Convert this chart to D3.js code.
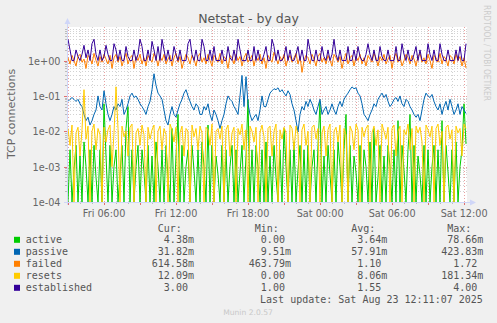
<!DOCTYPE html>
<html><head><meta charset="utf-8">
<script src="https://cdn.jsdelivr.net/npm/d3@7"></script>
<style>
body{margin:0;background:#f0f0f0;}
svg{display:block;}
text{white-space:pre;}
</style>
</head><body>
<svg id="chart" width="497" height="323"></svg>
<script>
// ---- data: 10-minute samples, Fri 22 Aug 02:57 to Sat 23 Aug 12:17 ----
const seriesNames  = ["active", "passive", "failed", "resets", "established"];
const seriesColors = ["#00cc00", "#0066b3", "#ff8000", "#ffcc00", "#330099"];

const active = [
  0,0.003,0,0.0008,0.004,0,0.002,0,0.005,0.001,0,0.003,0,0.004,0.0005,0,0.003,0,0.06,0.002,
  0,0.004,0,0.001,0.003,0,0.0006,0.004,0,0.012,0.05,0,0.003,0,0.001,0.004,0,0.003,0.0007,0,
  0.004,0,0.002,0,0.005,0.001,0,0.003,0,0.004,0.0005,0,0.012,0,0.002,0.03,0,0.004,0,0.001,
  0.003,0,0.004,0.0008,0,0.003,0,0.005,0.001,0,0.015,0,0.004,0,0.002,0.0006,0,0.004,0,0.003,
  0,0.001,0.004,0,0.003,0,0.0007,0.004,0,0.002,0.07866,0,0.003,0,0.004,0.001,0,0.003,0,0.005,
  0,0.002,0,0.004,0.0005,0,0.003,0,0.012,0.001,0,0.003,0,0.005,0,0.0008,0.004,0,0.003,0,
  0.004,0,0.001,0.003,0,0.004,0.07,0,0.002,0,0.004,0.0006,0,0.003,0,0.005,0.001,0,0.003,0.03,
  0,0.004,0,0.002,0.0007,0,0.004,0,0.003,0.001,0,0.005,0,0.012,0,0.0005,0.004,0,0.002,0,
  0.004,0.001,0,0.003,0,0.02,0,0.004,0.0008,0,0.003,0.03,0,0.004,0,0.002,0.0006,0,0.004,0,
  0.003,0,0.001,0.004,0,0.003,0,0.02,0,0.004,0.0007,0,0.003,0,0.005,0,0.001,0.003,0.06,0.00438
];

const passive = [
  0.07,0.08,0.09,0.08,0.07,0.08,0.06,
  0.05,0.03,0.02,0.025,0.015,0.02,0.03,0.04,
  0.1,0.05,0.04,0.14,0.06,0.03,
  0.02,0.03,0.05,0.04,0.06,0.05,0.08,0.03,0.04,0.06,
  0.1,0.12,0.09,0.1,0.08,0.06,0.05,0.04,
  0.03,0.05,0.07,0.15,0.42383,0.2,0.12,0.1,0.08,
  0.04,0.02,0.015,0.03,0.05,0.03,0.025,0.04,
  0.06,0.08,0.12,0.15,0.1,0.07,0.05,0.04,0.06,0.05,0.03,
  0.03,0.05,0.04,0.06,0.03,0.02,0.04,0.03,0.02,0.012,
  0.02,0.03,0.06,0.1,0.08,0.07,0.05,0.04,0.03,
  0.1,0.38,0.05,0.35,0.06,0.03,
  0.02,0.025,0.03,0.02,0.04,0.1,0.05,
  0.05,0.08,0.12,0.14,0.16,0.15,0.17,0.13,0.15,0.12,0.1,0.14,0.11,
  0.06,0.04,0.02,0.00951,0.03,0.05,0.04,0.07,
  0.05,0.08,0.06,0.04,0.03,0.05,0.08,
  0.03,0.04,0.05,0.03,0.04,0.06,0.04,0.03,0.05,0.07,0.05,0.08,0.1,0.12,0.15,
  0.18,0.16,0.17,0.12,0.1,0.06,
  0.03,0.025,0.02,0.03,0.04,0.06,0.05,0.08,
  0.1,0.12,0.09,0.11,0.07,0.05,0.06,
  0.08,0.09,0.07,0.1,0.06,0.05,0.08,0.07,0.05,
  0.04,0.03,0.025,0.03,0.02,0.04,
  0.08,0.12,0.1,0.09,0.11,0.07,0.05,
  0.04,0.06,0.03,0.05,0.07,0.04,0.08,0.05,0.03,
  0.04,0.06,0.03,0.05,0.04,0.03182
];

const failed = [
  1.2,0.8,1.4,1.0,0.7,1.3,1.5,0.9,1.1,0.6,1.4,1.2,0.8,1.6,1.0,0.7,1.3,0.9,1.5,1.1,
  0.8,1.4,0.6,1.2,1.5,0.9,1.3,0.7,1.1,1.6,0.8,1.2,1.4,0.6,1.3,1.0,1.5,0.8,1.2,0.7,
  1.4,1.1,0.9,1.6,1.2,0.7,1.3,1.0,1.5,0.8,1.1,1.4,0.7,1.2,1.6,0.9,1.3,0.6,1.0,1.5,
  1.2,0.8,1.4,1.1,0.7,1.3,1.6,0.9,1.2,0.8,1.5,1.0,0.7,1.4,1.2,0.9,1.6,0.8,1.3,1.1,
  0.6,1.4,1.2,0.8,1.5,1.0,1.3,0.7,1.2,1.6,0.9,1.1,1.4,0.7,1.3,1.0,1.5,0.8,1.2,0.6,
  1.4,1.1,0.9,1.72,1.2,0.8,1.3,1.0,1.5,0.7,1.1,1.4,0.9,1.2,1.6,0.8,1.3,0.46379,1.0,1.4,
  1.2,0.8,1.5,1.1,0.7,1.3,1.6,0.9,1.2,0.8,1.4,1.0,0.7,1.5,1.2,0.9,1.3,0.6,1.1,1.6,
  0.8,1.2,1.4,0.7,1.3,1.0,1.5,0.8,1.2,0.7,1.4,1.1,0.9,1.6,1.2,0.7,1.3,1.0,1.5,0.8,
  1.1,1.4,0.6,1.2,1.6,0.9,1.3,0.7,1.0,1.5,1.2,0.8,1.4,1.1,0.7,1.3,1.6,0.9,1.2,0.8,
  1.5,1.0,0.6,1.4,1.2,0.9,1.6,0.8,1.3,1.1,0.7,1.4,1.2,0.8,1.5,1.0,1.3,0.7,1.2,0.61458
];

const resets = [
  0.012,0.004,0.015,0,0.009,0.013,0.002,0.011,0.15,0.006,0.014,0,0.010,0.016,0.003,0.012,0.008,0,0.013,0.005,
  0.011,0.015,0.001,0.009,0.18134,0.012,0,0.014,0.007,0.010,0.002,0.013,0.016,0,0.009,0.012,0.004,0.015,0.008,0,
  0.013,0.006,0.011,0.015,0,0.010,0.014,0.003,0.012,0.008,0,0.016,0.011,0.005,0.013,0,0.009,0.014,0.002,0.012,
  0.010,0,0.015,0.007,0.012,0.003,0.014,0.009,0,0.013,0.011,0.004,0.016,0,0.010,0.012,0.006,0.014,0,0.011,
  0.015,0.002,0.009,0.013,0,0.012,0.008,0.016,0.003,0.011,0,0.014,0.010,0.005,0.013,0,0.009,0.015,0.007,0,
  0.012,0.014,0.002,0.010,0.016,0,0.011,0.006,0.013,0.009,0,0.015,0.012,0.003,0.014,0.008,0,0.011,0.016,0.004,
  0.010,0,0.013,0.015,0.006,0.012,0,0.009,0.014,0.002,0.011,0.016,0,0.010,0.013,0.005,0.015,0,0.012,0.008,
  0,0.014,0.010,0.003,0.016,0.011,0,0.013,0.007,0.012,0.015,0,0.009,0.014,0.004,0.011,0,0.016,0.010,0.006,
  0.013,0,0.012,0.015,0.002,0.010,0.014,0,0.011,0.008,0.016,0.003,0.012,0,0.014,0.009,0.013,0.005,0,0.015,
  0.011,0.007,0.014,0,0.012,0.016,0.004,0.010,0,0.013,0.015,0.006,0.011,0,0.014,0.009,0.012,0.002,0.016,0.01209
];

const established = [
  4,2,1,1,2,1.3,1,1.5,2.7,1.2,2,1,3,4,1.5,1,2,1,1.3,2.7,
  1.5,1,1,3,2,1,2,1,1,2.5,1.3,1,1,2,1,1.5,4,2.5,1,1,
  2,1,3.5,2,1,2.5,1,4,2,1,2,1,1,2.5,1.5,1,2,1,1,1,
  3,4,1.5,1,2,1,1,4,2.5,1,1,2,1,2.5,1,1,1,2,1,1,
  2.5,1.2,1,2,1,4,2,1,1,1,2,1,1,2.5,1,2,1,1,1.5,2.5,
  1,1,4,2.5,1,2,1,1,1.3,2.5,1,2,1,1,1.5,2.5,1,2,1,1,
  4,2,1,1,2,1,1,2.5,1.3,1,2,1,1.5,4,1.5,1,2,1,1,1,
  2.5,1,1,2,1,2.5,1.3,1,1,1.5,3,1.5,1,2,1,1,2.5,1.3,1,1,
  2,1,1,1,2.5,1,1,3,1.5,1,2,1,1,1.5,2.5,1,2,1,1,1,
  3,1.5,1,2,1,1,3,1.5,1,1,2,1,1,1,2,1,2.5,1,1,3
];

const seriesData = [active, passive, failed, resets, established];

// legend statistics
const statHeaders = ["Cur:", "Min:", "Avg:", "Max:"];
const statCur = [0.00438, 0.03182, 0.61458, 0.01209, 3.00];
const statMin = [0, 0.00951, 0.46379, 0, 1.00];
const statAvg = [0.00364, 0.05791, 1.10, 0.00806, 1.55];
const statMax = [0.07866, 0.42383, 1.72, 0.18134, 4.00];

const yTickValues = [1, 0.1, 0.01, 0.001, 0.0001];
const yTickLabels = ["1e+00", "1e-01", "1e-02", "1e-03", "1e-04"];

const titleText = "Netstat - by day";
const yAxisTitle = "TCP connections";
const lastUpdate = "Last update: Sat Aug 23 12:11:07 2025";
const versionText = "Munin 2.0.57";
const sideText = "RRDTOOL / TOBI OETIKER";

// ---- layout ----
const svg = d3.select("#chart");
const P = {left: 67, right: 467, top: 27, bottom: 202};
const sansFont = "'DejaVu Sans', sans-serif";
const monoFont = "'DejaVu Sans Mono', monospace";
const fontColor = "#666666";

const t0 = new Date(2025, 7, 22, 2, 57, 0);
const stepMs = 10 * 60 * 1000;
const tEnd = new Date(+t0 + 200 * stepMs);
const times = active.map((_, i) => new Date(+t0 + (i + 0.5) * stepMs));

const x = d3.scaleTime().domain([t0, tEnd]).range([P.left, P.right]);
const yMin = 1e-4;
const y = d3.scaleLog().domain([yMin, 8.9]).range([P.bottom, P.top]);

// canvas
svg.append("rect").attr("width", 497).attr("height", 323).attr("fill", "#f0f0f0");
svg.append("rect").attr("x", P.left).attr("y", P.top)
  .attr("width", P.right - P.left).attr("height", P.bottom - P.top).attr("fill", "#ffffff");

// grid
const grid = svg.append("g").attr("shape-rendering", "crispEdges");
const minorColor = "#d2d2d2", majorColor = "#e8a0a0";
// horizontal minor lines (2..9 per decade)
for (let k = -4; k <= 0; k++) {
  for (let m = 2; m <= 9; m++) {
    const v = m * Math.pow(10, k);
    if (v > y.domain()[1]) continue;
    const yy = Math.round(y(v)) + 0.5;
    grid.append("line").attr("x1", P.left).attr("x2", P.right).attr("y1", yy).attr("y2", yy)
      .attr("stroke", minorColor).attr("stroke-dasharray", "1,2");
    grid.append("line").attr("x1", P.left - 2).attr("x2", P.left).attr("y1", yy).attr("y2", yy)
      .attr("stroke", "#bbbbbb");
  }
}
// vertical minor lines every hour
x.ticks(d3.timeHour.every(1)).forEach(t => {
  const xx = Math.round(x(t)) + 0.5;
  grid.append("line").attr("x1", xx).attr("x2", xx).attr("y1", P.top).attr("y2", P.bottom)
    .attr("stroke", minorColor).attr("stroke-dasharray", "1,2");
  grid.append("line").attr("x1", xx).attr("x2", xx).attr("y1", P.bottom).attr("y2", P.bottom + 2)
    .attr("stroke", "#bbbbbb");
});
// major lines
yTickValues.forEach(v => {
  const yy = Math.round(y(v)) + 0.5;
  grid.append("line").attr("x1", P.left).attr("x2", P.right).attr("y1", yy).attr("y2", yy)
    .attr("stroke", majorColor).attr("stroke-dasharray", "1,2");
  grid.append("line").attr("x1", P.left - 3).attr("x2", P.left).attr("y1", yy).attr("y2", yy)
    .attr("stroke", "#e07070");
});
x.ticks(d3.timeHour.every(3)).forEach(t => {
  const xx = Math.round(x(t)) + 0.5;
  grid.append("line").attr("x1", xx).attr("x2", xx).attr("y1", P.top).attr("y2", P.bottom)
    .attr("stroke", majorColor).attr("stroke-dasharray", "1,2");
  grid.append("line").attr("x1", xx).attr("x2", xx).attr("y1", P.bottom).attr("y2", P.bottom + 3)
    .attr("stroke", "#e07070");
});

// series lines
const lineGen = d3.line()
  .x((d, i) => x(times[i]))
  .y(d => y(Math.max(d, yMin)));
const plotArea = svg.append("g");
seriesData.forEach((data, si) => {
  plotArea.append("path").datum(data)
    .attr("fill", "none").attr("stroke", seriesColors[si])
    .attr("stroke-width", 1).attr("stroke-linejoin", "round")
    .attr("d", lineGen);
});

// axes lines with arrows
const axisColor = "#cfd6f8";
svg.append("line").attr("x1", P.left + 0.5).attr("x2", P.left + 0.5)
  .attr("y1", P.bottom + 3).attr("y2", P.top - 4).attr("stroke", axisColor);
svg.append("path").attr("d", `M${P.left - 2.5},${P.top - 3} L${P.left + 3.5},${P.top - 3} L${P.left + 0.5},${P.top - 9} Z`)
  .attr("fill", axisColor);
svg.append("line").attr("x1", P.left - 3).attr("x2", P.right + 4)
  .attr("y1", P.bottom + 0.5).attr("y2", P.bottom + 0.5).attr("stroke", axisColor);
svg.append("path").attr("d", `M${P.right + 3},${P.bottom - 2.5} L${P.right + 3},${P.bottom + 3.5} L${P.right + 9},${P.bottom + 0.5} Z`)
  .attr("fill", axisColor);

// tick labels via d3 axes
const yAxis = d3.axisLeft(y).tickValues(yTickValues)
  .tickFormat((d, i) => yTickLabels[i]).tickSize(0).tickPadding(0);
const yg = svg.append("g").attr("transform", `translate(${P.left - 6.5},0)`).call(yAxis);
yg.select(".domain").remove();
yg.selectAll("text").attr("font-family", sansFont).attr("font-size", "9.7px")
  .attr("fill", fontColor).attr("dy", "0.36em");

const xAxis = d3.axisBottom(x).ticks(d3.timeHour.every(6))
  .tickFormat(d3.timeFormat("%a %H:%M")).tickSize(0).tickPadding(0);
const xg = svg.append("g").attr("transform", `translate(0,${P.bottom})`).call(xAxis);
xg.select(".domain").remove();
xg.selectAll("text").attr("font-family", sansFont).attr("font-size", "9.7px")
  .attr("fill", fontColor).attr("dy", null).attr("y", 14.5);

// titles
svg.append("text").attr("x", 248.5).attr("y", 22.5).attr("text-anchor", "middle")
  .attr("font-family", sansFont).attr("font-size", "12.5px").attr("fill", "#555555")
  .text(titleText);
svg.append("text").attr("transform", "translate(15,114) rotate(-90)").attr("text-anchor", "middle")
  .attr("font-family", sansFont).attr("font-size", "11px").attr("fill", fontColor)
  .text(yAxisTitle);
svg.append("text").attr("transform", "translate(484,5) rotate(90)")
  .attr("font-family", sansFont).attr("font-size", "8.6px").attr("fill", "#cccccc")
  .attr("textLength", 96).attr("lengthAdjust", "spacingAndGlyphs")
  .text(sideText);

// legend
const fmt = v => {
  let s;
  if (v === 0) s = "0.00 ";
  else if (Math.abs(v) < 1) s = (v * 1000).toFixed(2) + "m";
  else s = v.toFixed(2) + " ";
  return s.padStart(7, " ");
};
const colX = [151.8, 248.8, 345.2, 441.2];
const charW = 6.02;
const legend = svg.append("g").attr("font-family", monoFont).attr("font-size", "10px").attr("fill", "#555555");
statHeaders.forEach((h, c) => {
  legend.append("text").attr("x", colX[c] + charW).attr("y", 231.5).text(h);
});
const stats = [statCur, statMin, statAvg, statMax];
seriesNames.forEach((name, r) => {
  const by = 243.3 + r * 12;
  legend.append("rect").attr("x", 14).attr("y", by - 6.5).attr("width", 6).attr("height", 6)
    .attr("fill", seriesColors[r]);
  legend.append("text").attr("x", 25.8).attr("y", by).text(name);
  stats.forEach((col, c) => {
    legend.append("text").attr("x", colX[c]).attr("y", by).text(fmt(col[r]));
  });
});
legend.append("text").attr("x", 482.8).attr("y", 302.7).attr("text-anchor", "end").text(lastUpdate);

svg.append("text").attr("x", 248).attr("y", 315).attr("text-anchor", "middle")
  .attr("font-family", sansFont).attr("font-size", "7.6px").attr("fill", "#c8c8c8")
  .text(versionText);
</script>
</body></html>
